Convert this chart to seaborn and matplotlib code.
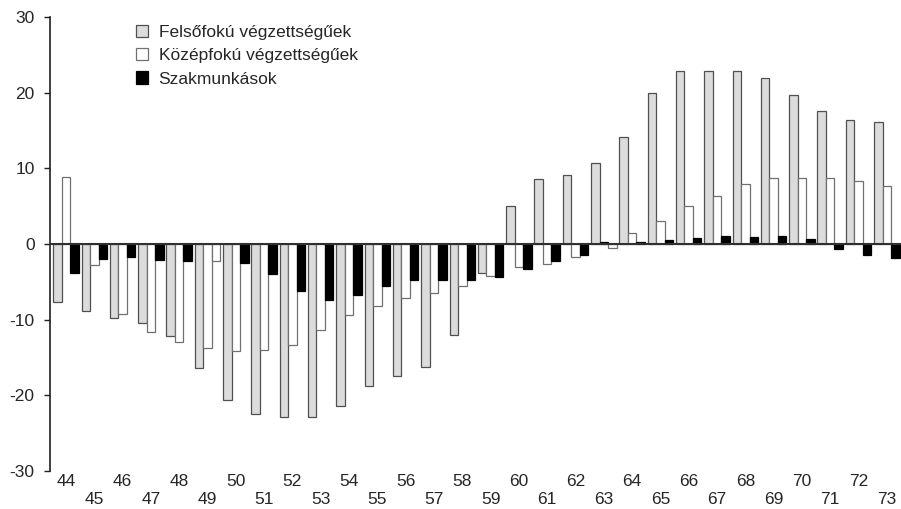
import matplotlib
matplotlib.use('Agg')
import matplotlib.pyplot as plt
import seaborn as sns
import pandas as pd
from matplotlib.patches import Patch

# ---- data ----
years = list(range(44, 74))
series_names = ['Felsőfokú végzettségűek', 'Középfokú végzettségűek', 'Szakmunkások']

felsofoku = [-7.7, -8.9, -9.8, -10.4, -12.1, -16.4, -20.6, -22.5, -22.8, -22.9,
             -21.4, -18.8, -17.4, -16.3, -12.0, -3.8, 5.0, 8.6, 9.1, 10.7,
             14.2, 19.9, 22.9, 22.9, 22.8, 21.9, 19.7, 17.6, 16.4, 16.1]
kozepfoku = [8.9, -2.8, -9.3, -11.6, -12.9, -13.8, -14.1, -14.0, -13.4, -11.4,
             -9.4, -8.2, -7.2, -6.5, -5.6, -4.2, -3.1, -2.7, -1.7, 0.3,
             1.5, 3.1, 5.0, 6.4, 7.9, 8.7, 8.7, 8.7, 8.3, 7.6]
szakmunkas = [-3.9, -2.0, -1.7, -2.1, -2.3, -2.3, -2.5, -4.0, -6.2, -7.4,
              -6.8, -5.5, -4.8, -4.7, -4.7, -4.3, -3.3, -2.3, -1.5, -0.5,
              0.3, 0.5, 0.8, 1.0, 0.9, 1.0, 0.7, -0.6, -1.4, -1.8]

y_ticks = [-30, -20, -10, 0, 10, 20, 30]

# styling
FACE = ['#dcdcdc', '#ffffff', '#000000']
EDGE = ['#505050', '#707070', '#000000']
# bars that are drawn in another series' colours in the original (series idx, bar idx) -> style idx
ODD_BARS = {(2, 5): 1, (1, 19): 2, (2, 19): 1}

df = pd.DataFrame({
    'year': [str(y) for y in years] * 3,
    'value': felsofoku + kozepfoku + szakmunkas,
    'series': [s for s in series_names for _ in years],
})

sns.set_style('white')
plt.rcParams['font.family'] = ['Liberation Sans', 'DejaVu Sans']

fig = plt.figure(figsize=(9.01, 5.09), dpi=100)
ax = fig.add_axes([0.0555, 0.0747, 0.9445, 0.8919])

sns.barplot(data=df, x='year', y='value', hue='series', hue_order=series_names,
            order=[str(y) for y in years], errorbar=None, width=0.9, gap=0,
            palette=FACE, legend=False, ax=ax)

for si, cont in enumerate(ax.containers):
    for bi, bar in enumerate(cont):
        st = ODD_BARS.get((si, bi), si)
        bar.set_facecolor(FACE[st])
        bar.set_edgecolor(EDGE[st])
        bar.set_linewidth(0.9)

ax.axhline(0, color='#303030', lw=1.5, zorder=5)

ax.set_ylim(-30, 30)
ax.set_xlim(-0.565, 29.5)
ax.set_yticks(y_ticks)
ax.set_yticklabels([str(t) for t in y_ticks])
ax.set_xticks(range(len(years)))
ax.set_xticklabels([str(y) if i % 2 == 0 else '\n' + str(y) for i, y in enumerate(years)],
                   linespacing=1.3)
ax.tick_params(axis='x', length=0, pad=2, labelsize=12.5)
ax.tick_params(axis='y', length=4, width=1.0, direction='out', pad=7, labelsize=12.5,
               color='#202020', left=True)
ax.set_xlabel('')
ax.set_ylabel('')

for side in ['top', 'right', 'bottom']:
    ax.spines[side].set_visible(False)
ax.spines['left'].set_color('#202020')
ax.spines['left'].set_linewidth(1.2)

handles = [Patch(facecolor=FACE[i], edgecolor=EDGE[i], linewidth=0.9) for i in range(3)]
ax.legend(handles, series_names, loc='upper left', bbox_to_anchor=(0.101, 0.982),
          frameon=False, fontsize=12.5, handlelength=0.7, handleheight=0.7,
          handletextpad=0.6, labelspacing=0.46, borderpad=0, borderaxespad=0)

fig.savefig('out.png', dpi=100)
